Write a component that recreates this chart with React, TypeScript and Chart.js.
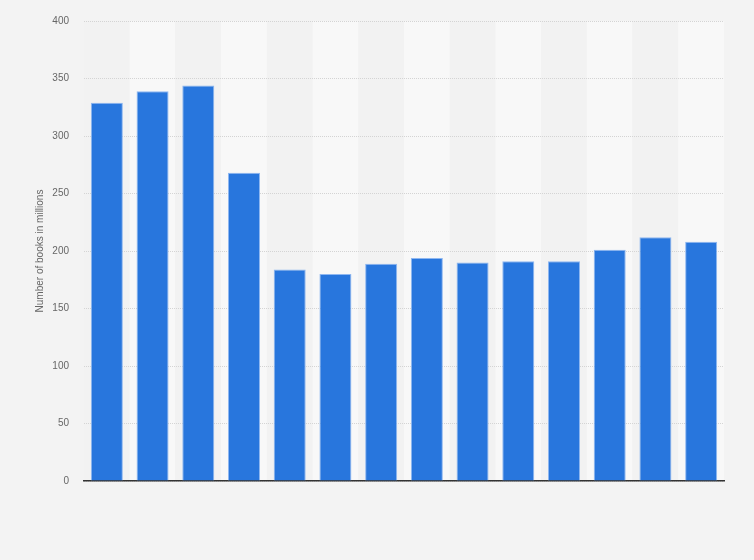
import { useEffect, useRef } from 'react';
import { Chart, registerables } from 'chart.js';

Chart.register(...registerables);

// Category labels (not printed on the reference axis)
const categories = [
  '2009', '2010', '2011', '2012', '2013', '2014', '2015',
  '2016', '2017', '2018', '2019', '2020', '2021', '2022',
];
// Number of books in millions
const bookValues = [329, 339, 344, 268, 184, 180, 189, 194, 190, 191, 191, 201, 212, 208];
const yTicks = [0, 50, 100, 150, 200, 250, 300, 350, 400];

const FONT = '"Liberation Sans", Arial, Helvetica, sans-serif';

// Alternating column stripes behind the bars
const stripePlugin = {
  id: 'stripes',
  beforeDraw(chart: any) {
    const { ctx, chartArea, scales } = chart;
    const xs = scales.x;
    const step = (chartArea.right - chartArea.left) / categories.length;
    ctx.save();
    categories.forEach((_, i) => {
      const cx = xs.getPixelForValue(i);
      ctx.fillStyle = i % 2 === 0 ? '#f2f2f2' : '#f8f8f8';
      ctx.fillRect(cx - step / 2, chartArea.top, step, chartArea.bottom - chartArea.top);
    });
    ctx.restore();
  },
};

export default function App() {
  const canvasRef = useRef<HTMLCanvasElement>(null);
  const chartRef = useRef<Chart | null>(null);

  useEffect(() => {
    document.body.style.margin = '0';
    if (!canvasRef.current) return;
    if (chartRef.current) chartRef.current.destroy();

    chartRef.current = new Chart(canvasRef.current, {
      type: 'bar',
      data: {
        labels: categories,
        datasets: [{
          data: bookValues,
          backgroundColor: '#2876dd',
          borderColor: 'rgba(130, 175, 240, 0.9)',
          borderWidth: { top: 1, left: 1, right: 1, bottom: 0 },
          barPercentage: 0.7,
          categoryPercentage: 1,
        }],
      },
      options: {
        responsive: false,
        animation: false,
        layout: { padding: { top: 21, right: 30, left: 0, bottom: 0 } },
        plugins: {
          legend: { display: false },
          tooltip: { enabled: false },
        },
        scales: {
          x: {
            ticks: { display: false },
            grid: { display: false, drawTicks: false },
            border: { display: true, color: '#333333', width: 1.5 },
            afterFit(scale: any) { scale.height = 79; },
          },
          y: {
            min: 0,
            max: 400,
            afterBuildTicks(scale: any) {
              scale.ticks = yTicks.map(v => ({ value: v }));
            },
            afterFit(scale: any) { scale.width = 84; },
            ticks: {
              padding: 15,
              color: '#666666',
              font: { family: FONT, size: 10 },
            },
            grid: {
              color: '#d4d4d4',
              lineWidth: 1,
              drawTicks: false,
            },
            border: { display: false, dash: [1, 1] },
            title: {
              display: true,
              text: 'Number of books in millions',
              color: '#666666',
              font: { family: FONT, size: 10 },
              padding: { top: 34, bottom: 0 },
            },
          },
        },
      },
      plugins: [stripePlugin],
    });

    return () => {
      if (chartRef.current) {
        chartRef.current.destroy();
        chartRef.current = null;
      }
    };
  }, []);

  return (
    <div style={{ width: 754, height: 560, background: '#f3f3f3' }}>
      <canvas ref={canvasRef} width={754} height={560}></canvas>
    </div>
  );
}
